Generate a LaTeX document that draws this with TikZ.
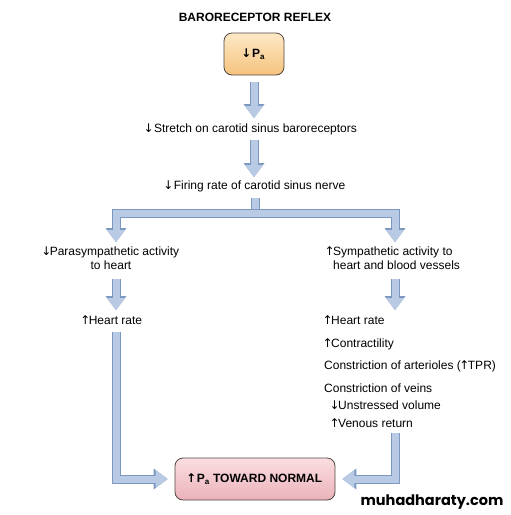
\documentclass[tikz,border=0pt]{standalone}
\usepackage{fontspec}
\setmainfont{Liberation Sans}
\newfontfamily\markfont{Poppins}
\newfontfamily\arrowfont{DejaVu Sans}
\usetikzlibrary{arrows.meta}

\definecolor{flowfill}{RGB}{185,203,228}
\definecolor{flowline}{RGB}{125,152,192}
\definecolor{patop}{RGB}{253,233,198}
\definecolor{pabottom}{RGB}{245,194,126}
\definecolor{normtop}{RGB}{250,222,225}
\definecolor{normbottom}{RGB}{235,178,186}
\definecolor{boxline}{RGB}{80,70,65}
\newcommand{\up}{\makebox[7pt]{\arrowfont ↑}}
\newcommand{\dn}{\makebox[7pt]{\arrowfont ↓}}

\begin{document}
\begin{tikzpicture}[x=1pt, y=-1pt,
  every node/.style={inner sep=0pt, font=\fontsize{12}{14}\selectfont},
  label/.style={anchor=base},
  item/.style={anchor=base west},
  valuebox/.style={draw=boxline, line width=0.8pt, rounded corners=8pt,
    minimum height=42pt, font=\fontsize{12}{14}\selectfont\bfseries},
  flowedge/.style={draw=flowline, line width=9pt},
  flowbar/.style={draw=flowfill, line width=7pt, preaction={flowedge}},
  flow/.style={draw=flowfill, line width=7pt,
    -{Triangle[width=18pt,length=12pt,line width=0pt]},
    preaction={flowedge, -{Triangle[width=21pt,length=14pt,line width=0pt]}}},
  flowtwo/.style={draw=flowfill, line width=7pt,
    {Triangle[width=18pt,length=12pt,line width=0pt]}-{Triangle[width=18pt,length=12pt,line width=0pt]},
    preaction={flowedge, {Triangle[width=21pt,length=14pt,line width=0pt]}-{Triangle[width=21pt,length=14pt,line width=0pt]}}}]
  \useasboundingbox (0,0) rectangle (511,515);

  \node[label, font=\fontsize{12}{14}\selectfont\bfseries] (title) at (255,21) {BARORECEPTOR REFLEX};
  \node[valuebox, top color=patop, bottom color=pabottom, minimum width=60pt] (pa) at (254,54) {\dn\,P\textsubscript{a}};

  \node[label] (stretch) at (251,132) {\dn\,Stretch on carotid sinus baroreceptors};
  \node[label] (firing) at (255,189) {\dn\,Firing rate of carotid sinus nerve};

  \node[anchor=north, align=center] (para) at (111,247) {\dn Parasympathetic activity\\to heart};
  \node[anchor=north west, align=left] (symp) at (333,247) {\llap{\up}Sympathetic activity to\\heart and blood vessels};

  \node[label] (heartL) at (112,324) {\up Heart rate};
  \node[item] (heartR) at (324,324) {\up Heart rate};
  \node[item] (contract) at (324,347) {\up Contractility};
  \node[item] (arteriole) at (324,369) {Constriction of arterioles (\up TPR)};
  \node[item] (veins) at (324,392) {Constriction of veins};
  \node[item] (volume) at (331,409) {\dn Unstressed volume};
  \node[item] (venous) at (331,427) {\up Venous return};

  \node[valuebox, top color=normtop, bottom color=normbottom, minimum width=160pt] (norm) at (255,479) {\up\,P\textsubscript{a} TOWARD NORMAL};
  \node[font=\markfont\bfseries\fontsize{14.5}{17}\selectfont] (mark) at (432,502) {muhadharaty.com};

  \coordinate (fork) at (255,213);
  \coordinate (forkL) at (116,213);
  \coordinate (forkR) at (395,213);

  % Block arrows
  \draw[flow] ([yshift=-7pt]pa.south) -- ([yshift=5pt]pa.south |- stretch.north);
  \draw[flow] ([yshift=-5.5pt]pa.south |- stretch.south) -- ([yshift=3pt]pa.south |- firing.north);
  \draw[flowbar] ([yshift=-6pt]firing.south) -- (fork);
  \draw[flowtwo] ([yshift=5pt]forkL |- para.north) -- (forkL) -- (forkR) -- ([yshift=5pt]forkR |- symp.north);
  \draw[flow] ([yshift=-9pt]forkL |- para.south) -- ([yshift=5pt]forkL |- heartL.north);
  \draw[flow] ([yshift=-9pt]forkR |- symp.south) -- ([yshift=5pt]forkR |- heartR.north);
  \draw[flow] ([yshift=-8pt]forkL |- heartL.south) |- ([xshift=-7pt]norm.west);
  \draw[flow] ([yshift=-6pt]forkR |- venous.south) |- ([xshift=7pt]norm.east);
\end{tikzpicture}
\end{document}
